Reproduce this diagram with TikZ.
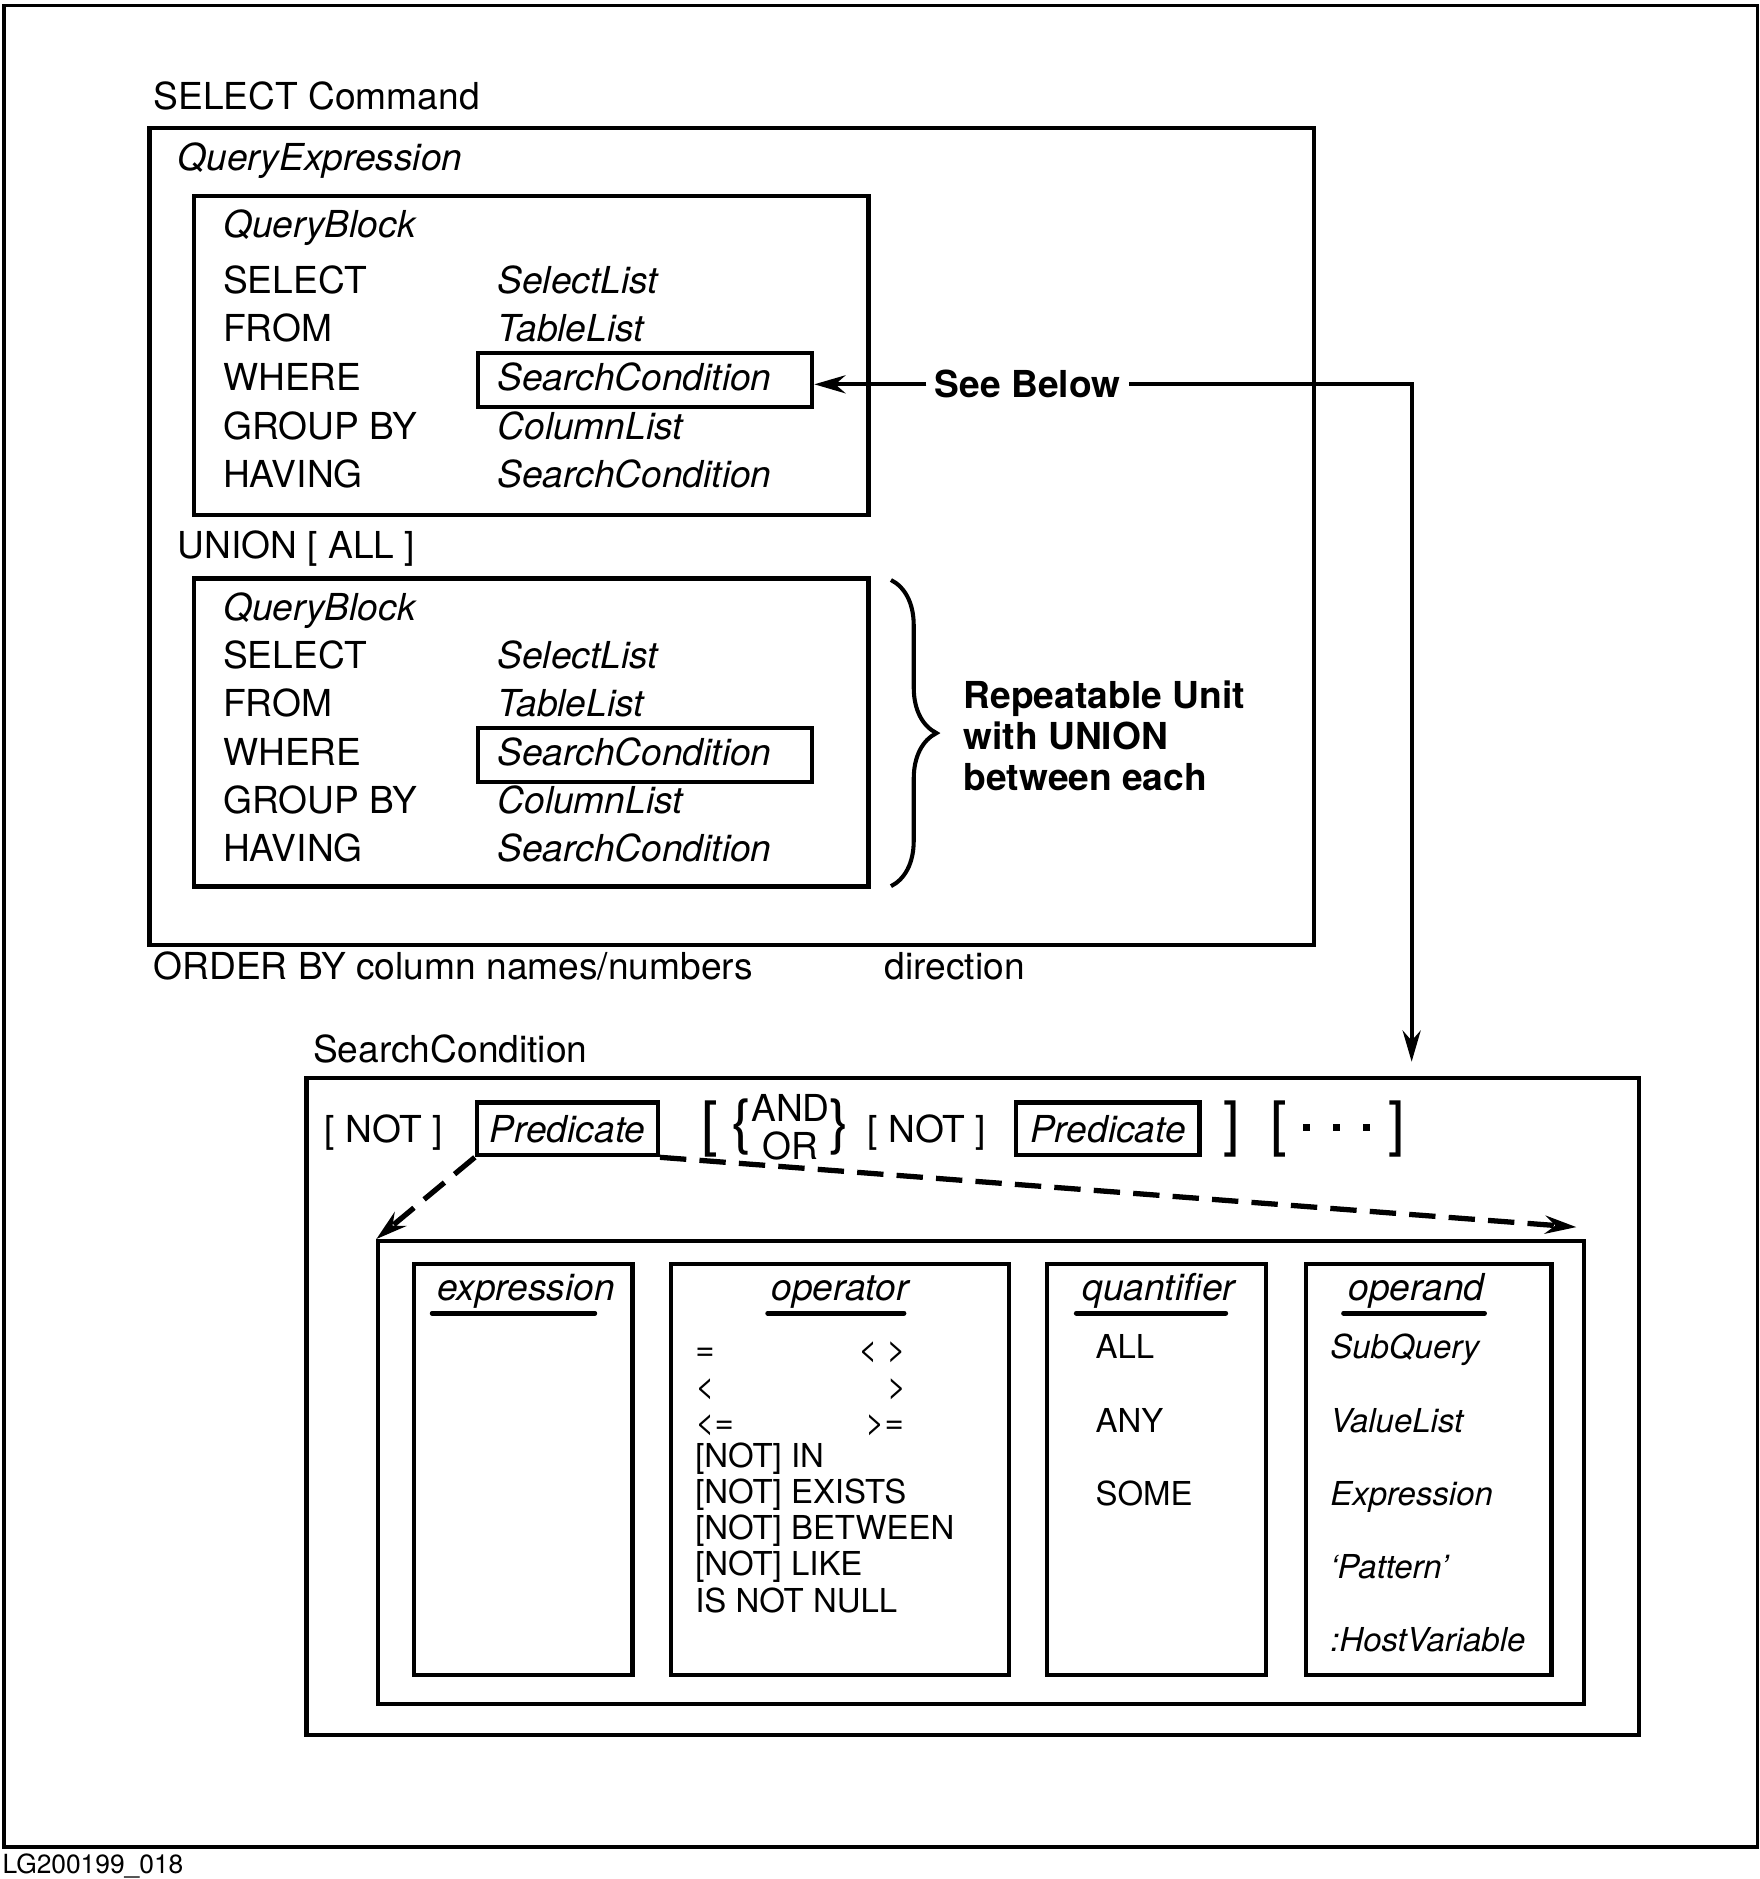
\documentclass[tikz,border=0pt]{standalone}
\usepackage{fontspec}
\setmainfont{TeX Gyre Heros}
\usetikzlibrary{arrows.meta,arrows}
\usetikzlibrary{positioning,decorations.pathreplacing}

\newcommand{\bigbr}{\fontsize{50}{50}\selectfont}
\newcommand{\sqdot}{\raisebox{11pt}{\rule{6pt}{6pt}}}

\begin{document}
\begin{tikzpicture}[x=1pt,y=-1pt,
    box/.style={draw,line width=3.5pt,inner sep=0pt,anchor=north west},
    predbox/.style={draw,line width=3.5pt,inner sep=0pt,minimum height=44pt,
        font=\fontsize{31}{34}\selectfont\itshape},
    txt/.style={inner sep=0pt,anchor=base west,font=\fontsize{31}{34}\selectfont},
    itxt/.style={txt,font=\fontsize{31}{34}\selectfont\itshape},
    btxt/.style={txt,font=\fontsize{31}{34}\selectfont\bfseries},
    stxt/.style={txt,font=\fontsize{27.5}{30}\selectfont},
    sitxt/.style={txt,font=\fontsize{27.5}{30}\selectfont\itshape},
    hdr/.style={inner sep=0pt,anchor=base,font=\fontsize{31}{34}\selectfont\itshape},
    uline/.style={line width=4pt,line cap=round},
    tip/.style={-{Stealth[black,length=26pt,width=15pt]}}]

    \useasboundingbox (0,0) rectangle (1468,1568);

    % frame and figure id
    \node[box,line width=3.2pt,minimum width=1463pt,minimum height=1537pt] (frame) at (2,3) {};
    \node[txt,font=\fontsize{22}{24}\selectfont] (figid) at (2,1563) {LG200199\_018};

    % SELECT command
    \node[txt] (selcmd) at (128,91) {SELECT Command};
    \node[box,minimum width=972pt,minimum height=682pt] (qexpr) at (123,105) {};
    \node[itxt] (qexprlbl) at (148,142) {QueryExpression};

    % first query block
    \node[box,minimum width=563pt,minimum height=266pt] (qb1) at (160,162) {};
    \node[box,minimum width=279pt,minimum height=45pt] (sc1) at (397,293) {};
    \begin{scope}[every node/.style={txt}]
        \node[itxt] (qb1lbl) at (186,198) {QueryBlock};
        \node (sel1) at (186,245) {SELECT};
        \node (from1) at (186,285) {FROM};
        \node (where1) at (186,326) {WHERE};
        \node (group1) at (186,367) {GROUP BY};
        \node (having1) at (186,407) {HAVING};
        \node[itxt] (sellist1) at (415,245) {SelectList};
        \node[itxt] (tablist1) at (415,285) {TableList};
        \node[itxt] (search1) at (415,326) {SearchCondition};
        \node[itxt] (collist1) at (415,367) {ColumnList};
        \node[itxt] (hsearch1) at (415,407) {SearchCondition};
    \end{scope}

    \node[txt] (union) at (148,466) {UNION [ ALL ]};

    % second query block
    \node[box,minimum width=563pt,minimum height=257pt] (qb2) at (160,481) {};
    \node[box,minimum width=279pt,minimum height=45pt] (sc2) at (397,606) {};
    \begin{scope}[every node/.style={txt}]
        \node[itxt] (qb2lbl) at (186,518) {QueryBlock};
        \node (sel2) at (186,558) {SELECT};
        \node (from2) at (186,598) {FROM};
        \node (where2) at (186,639) {WHERE};
        \node (group2) at (186,679) {GROUP BY};
        \node (having2) at (186,719) {HAVING};
        \node[itxt] (sellist2) at (415,558) {SelectList};
        \node[itxt] (tablist2) at (415,598) {TableList};
        \node[itxt] (search2) at (415,639) {SearchCondition};
        \node[itxt] (collist2) at (415,679) {ColumnList};
        \node[itxt] (hsearch2) at (415,719) {SearchCondition};
    \end{scope}

    \draw[line width=3.4pt,decorate,decoration={brace,amplitude=38pt}]
        ([xshift=17pt,yshift=-3pt]qb2.north east) -- ([xshift=17pt,yshift=2pt]qb2.south east);
    \node[btxt,anchor=west,align=left] (repeat) at (804,614) {Repeatable Unit\\with UNION\\between each};

    \node[txt] (orderby) at (128,817) {ORDER BY column names/numbers};
    \node[txt] (direction) at (738,817) {direction};

    % see below
    \node[btxt,inner xsep=7pt] (seebelow) at (773,332) {See Below};
    \coordinate (sctop) at (1178,886);
    \draw[tip,line width=3.6pt] (seebelow.west) -- (seebelow.west -| sc1.east);
    \draw[tip,line width=3.6pt] (seebelow.east) -| (sctop);

    % search condition
    \node[txt] (sclbl) at (261,887) {SearchCondition};
    \node[box,minimum width=1112pt,minimum height=548pt] (scond) at (254,898) {};

    \node[txt] (not1) at (271,953) {[ NOT ]};
    \node[predbox,minimum width=151pt] (pred1) at (473.5,942) {Predicate};
    \node[txt,font=\bigbr] (open1) at (585,955) {[};
    \node[txt] (andor) at (610,953)
        {{\bigbr\{}\raisebox{17pt}{\renewcommand{\arraystretch}{0.82}%
        \begin{tabular}[t]{@{}c@{}}AND\\OR\end{tabular}}{\bigbr\}}};
    \node[txt] (not2) at (724,953) {[ NOT ]};
    \node[predbox,minimum width=153pt] (pred2) at (924.5,942) {Predicate};
    \node[txt,font=\bigbr] (close1) at (1020.5,955) {]};
    \node[txt,font=\bigbr] (more) at (1060,955)
        {[\hspace{13pt}\sqdot\hspace{19pt}\sqdot\hspace{19pt}\sqdot\hspace{15.6pt}]};

    % predicate detail
    \node[box,minimum width=1006pt,minimum height=386pt] (inner) at (314,1034) {};
    \begin{scope}[line width=4.4pt,dash pattern=on 22pt off 11pt]
        \path[tip] (pred1.south west) edge[tip] (inner.north west);
        \path[tip] (pred1.south east) edge[tip] ([xshift=-8pt,yshift=10pt]inner.north east);
    \end{scope}

    \node[box,minimum width=182pt,minimum height=343pt] (colexpr) at (344,1053) {};
    \node[box,minimum width=282pt,minimum height=343pt] (colop) at (558,1053) {};
    \node[box,minimum width=183pt,minimum height=343pt] (colquant) at (872,1053) {};
    \node[box,minimum width=205pt,minimum height=343pt] (coloperand) at (1088,1053) {};

    \node[hdr] (hexpr) at (439,1085) {expression};
    \node[hdr] (hop) at (701,1085) {operator};
    \node[hdr] (hquant) at (967,1085) {quantifier};
    \node[hdr] (hoperand) at (1182,1085) {operand};
    \draw[uline] ([xshift=-4pt,yshift=-4pt]hexpr.south west) -- ([xshift=-17pt,yshift=-4pt]hexpr.south east);
    \draw[uline] ([xshift=-3pt,yshift=-4pt]hop.south west) -- ([xshift=-4pt,yshift=-4pt]hop.south east);
    \draw[uline] ([xshift=-5pt,yshift=-4pt]hquant.south west) -- ([xshift=-8pt,yshift=-4pt]hquant.south east);
    \draw[uline] ([xshift=-4pt,yshift=-4pt]hoperand.south west) -- ([xshift=0pt,yshift=-4pt]hoperand.south east);

    \begin{scope}[every node/.style={stxt}]
        \node (eq) at (580,1135) {=};
        \node (ne) at (716,1135) {< >};
        \node (lt) at (580,1166) {<};
        \node (gt) at (740,1166) {>};
        \node (le) at (580,1196) {<=};
        \node (ge) at (722,1196) {>=};
        \node (in) at (580,1225) {[NOT] IN};
        \node (exists) at (580,1255) {[NOT] EXISTS};
        \node (between) at (580,1285) {[NOT] BETWEEN};
        \node (like) at (580,1315) {[NOT] LIKE};
        \node (null) at (580,1346) {IS NOT NULL};

        \node (all) at (914,1134) {ALL};
        \node (any) at (914,1195) {ANY};
        \node (some) at (914,1256) {SOME};

        \node[sitxt] (subq) at (1110,1134) {SubQuery};
        \node[sitxt] (vlist) at (1110,1195) {ValueList};
        \node[sitxt] (oexpr) at (1110,1256) {Expression};
        \node[sitxt] (pattern) at (1110,1317) {`Pattern'};
        \node[sitxt] (hostvar) at (1110,1378) {:HostVariable};
    \end{scope}
\end{tikzpicture}
\end{document}
